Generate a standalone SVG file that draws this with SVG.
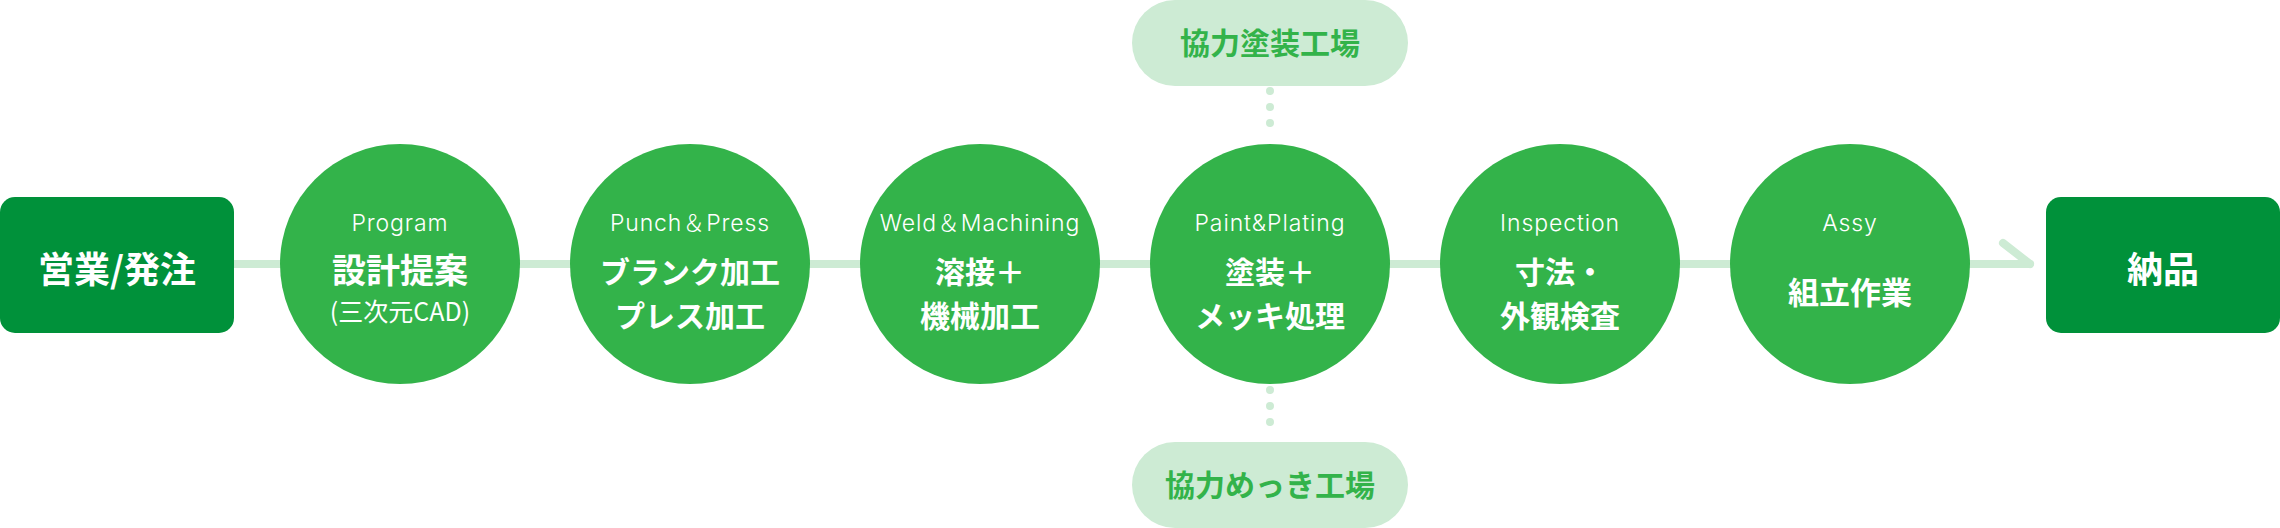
<svg xmlns="http://www.w3.org/2000/svg" width="2280" height="528" viewBox="0 0 2280 528">
<style>
.box{fill:#00913a}
.step{fill:#33b34a}
.pill{fill:#cdebd4}
.line{stroke:#cdebd4;stroke-width:8;fill:none;stroke-linecap:round;stroke-linejoin:round}
.dots{stroke:#cdebd4;stroke-width:8;fill:none;stroke-linecap:round;stroke-dasharray:0 16}
.en{font-family:"Inter","Noto Sans CJK JP",sans-serif;font-size:23px;font-weight:300;fill:#fff;text-anchor:middle;letter-spacing:0.9px}
.jp{font-family:"Noto Sans CJK JP",sans-serif;font-weight:700;fill:#fff;text-anchor:middle}
.sub{font-family:"Noto Sans CJK JP",sans-serif;font-weight:400;fill:#fff;text-anchor:middle;font-size:25px}
.pt{font-family:"Noto Sans CJK JP",sans-serif;font-weight:700;fill:#33b34a;text-anchor:middle;font-size:30px}
</style>
<g id="connectors">
<line class="line" x1="234" y1="264" x2="2030" y2="264"/>
<polyline class="line" points="2003,243 2030,264"/>
<line class="dots" x1="1270" y1="91" x2="1270" y2="139"/>
<line class="dots" x1="1270" y1="390" x2="1270" y2="438"/>
</g>
<g id="sales">
<rect class="box" x="0" y="197" width="234" height="136" rx="15"/>
<text class="jp" x="117" y="283" font-size="36">営業/発注</text>
</g>
<g id="program">
<circle class="step" cx="400" cy="264" r="120"/>
<text class="en" x="400" y="231">Program</text>
<text class="jp" x="400" y="283" font-size="34">設計提案</text>
<text class="sub" x="400" y="321">(三次元CAD)</text>
</g>
<g id="punch">
<circle class="step" cx="690" cy="264" r="120"/>
<text class="en" x="690" y="231">Punch＆Press</text>
<text class="jp" x="690" y="283" font-size="30">ブランク加工</text>
<text class="jp" x="690" y="327" font-size="30">プレス加工</text>
</g>
<g id="weld">
<circle class="step" cx="980" cy="264" r="120"/>
<text class="en" x="980" y="231">Weld＆Machining</text>
<text class="jp" x="980" y="283" font-size="30">溶接＋</text>
<text class="jp" x="980" y="327" font-size="30">機械加工</text>
</g>
<g id="paint">
<circle class="step" cx="1270" cy="264" r="120"/>
<text class="en" x="1270" y="231">Paint&amp;Plating</text>
<text class="jp" x="1270" y="283" font-size="30">塗装＋</text>
<text class="jp" x="1270" y="327" font-size="30">メッキ処理</text>
</g>
<g id="inspection">
<circle class="step" cx="1560" cy="264" r="120"/>
<text class="en" x="1560" y="231">Inspection</text>
<text class="jp" x="1560" y="283" font-size="30">寸法・</text>
<text class="jp" x="1560" y="327" font-size="30">外観検査</text>
</g>
<g id="assy">
<circle class="step" cx="1850" cy="264" r="120"/>
<text class="en" x="1850" y="231">Assy</text>
<text class="jp" x="1850" y="304" font-size="31">組立作業</text>
</g>
<g id="delivery">
<rect class="box" x="2046" y="197" width="234" height="136" rx="15"/>
<text class="jp" x="2163" y="283" font-size="36">納品</text>
</g>
<g id="paint-factory">
<rect class="pill" x="1132" y="0" width="276" height="86" rx="43"/>
<text class="pt" x="1270" y="54">協力塗装工場</text>
</g>
<g id="plating-factory">
<rect class="pill" x="1132" y="442" width="276" height="86" rx="43"/>
<text class="pt" x="1270" y="496">協力めっき工場</text>
</g>
</svg>
